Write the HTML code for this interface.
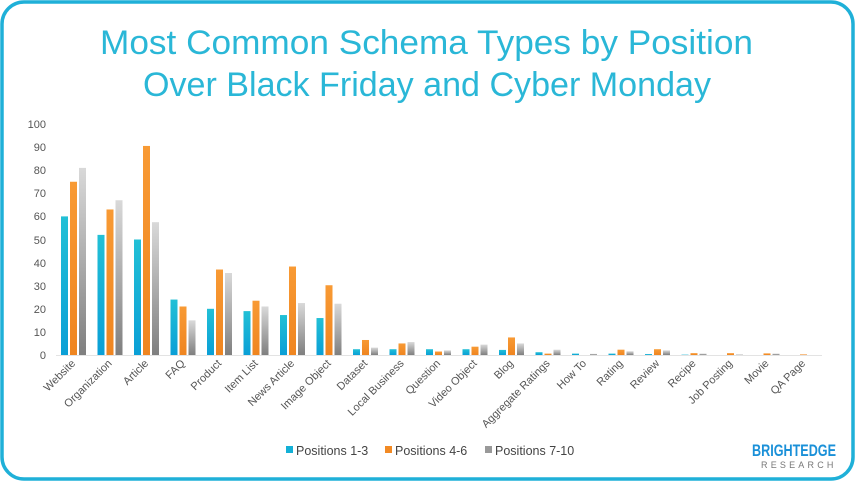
<!DOCTYPE html>
<html><head><meta charset="utf-8"><style>
html,body{margin:0;padding:0;background:#fff;}
svg{display:block;font-family:"Liberation Sans",sans-serif;}
</style></head><body>
<svg width="855" height="481" viewBox="0 0 855 481" xmlns="http://www.w3.org/2000/svg">
<defs>
<linearGradient id="gc" x1="0" y1="1" x2="0" y2="0"><stop offset="0" stop-color="#22c0d6"/><stop offset="1" stop-color="#0a9fd6"/></linearGradient>
<linearGradient id="go" x1="0" y1="1" x2="0" y2="0"><stop offset="0" stop-color="#f89a34"/><stop offset="1" stop-color="#ef8520"/></linearGradient>
<linearGradient id="gg" x1="0" y1="1" x2="0" y2="0"><stop offset="0" stop-color="#d9d9d9"/><stop offset="1" stop-color="#7f7f7f"/></linearGradient>
</defs>
<rect x="2" y="2" width="851" height="477" rx="22" fill="#fff" stroke="#1fb0d8" stroke-width="3.5"/>
<text x="100" y="54" font-size="34" fill="#2ab7d7" textLength="653" lengthAdjust="spacingAndGlyphs">Most Common Schema Types by Position</text>
<text x="143" y="96" font-size="34" fill="#2ab7d7" textLength="568" lengthAdjust="spacingAndGlyphs">Over Black Friday and Cyber Monday</text>
<g font-size="11" fill="#555" text-anchor="end">
<text x="46" y="359">0</text><text x="46" y="336">10</text><text x="46" y="313">20</text><text x="46" y="290">30</text><text x="46" y="267">40</text><text x="46" y="244">50</text><text x="46" y="220">60</text><text x="46" y="197">70</text><text x="46" y="174">80</text><text x="46" y="151">90</text><text x="46" y="128">100</text>
</g>
<line x1="56" y1="355.5" x2="822" y2="355.5" stroke="#e3e3e3" stroke-width="1"/>
<g transform="translate(0,355) scale(1,-2.31)">
<g fill="url(#gc)">
<rect x="61" y="0" width="7" height="60"/><rect x="97.5" y="0" width="7" height="52"/><rect x="134" y="0" width="7" height="50"/><rect x="170.5" y="0" width="7" height="24"/><rect x="207" y="0" width="7" height="20"/><rect x="243.5" y="0" width="7" height="19"/><rect x="280" y="0" width="7" height="17.3"/><rect x="316.5" y="0" width="7" height="16"/><rect x="353" y="0" width="7" height="2.5"/><rect x="389.5" y="0" width="7" height="2.5"/><rect x="426" y="0" width="7" height="2.5"/><rect x="462.5" y="0" width="7" height="2.5"/><rect x="499" y="0" width="7" height="2.2"/><rect x="535.5" y="0" width="7" height="1.2"/><rect x="572" y="0" width="7" height="0.6"/><rect x="608.5" y="0" width="7" height="0.6"/><rect x="645" y="0" width="7" height="0.4"/><rect x="681.5" y="0" width="7" height="0.15"/>
</g>
<g fill="url(#go)">
<rect x="70" y="0" width="7" height="75"/><rect x="106.5" y="0" width="7" height="63"/><rect x="143" y="0" width="7" height="90.5"/><rect x="179.5" y="0" width="7" height="21"/><rect x="216" y="0" width="7" height="37"/><rect x="252.5" y="0" width="7" height="23.5"/><rect x="289" y="0" width="7" height="38.3"/><rect x="325.5" y="0" width="7" height="30.2"/><rect x="362" y="0" width="7" height="6.5"/><rect x="398.5" y="0" width="7" height="5"/><rect x="435" y="0" width="7" height="1.5"/><rect x="471.5" y="0" width="7" height="3.6"/><rect x="508" y="0" width="7" height="7.6"/><rect x="544.5" y="0" width="7" height="0.6"/><rect x="617.5" y="0" width="7" height="2.3"/><rect x="654" y="0" width="7" height="2.5"/><rect x="690.5" y="0" width="7" height="0.8"/><rect x="727" y="0" width="7" height="0.8"/><rect x="763.5" y="0" width="7" height="0.7"/><rect x="800" y="0" width="7" height="0.25"/>
</g>
<g fill="url(#gg)">
<rect x="79" y="0" width="7" height="81"/><rect x="115.5" y="0" width="7" height="67"/><rect x="152" y="0" width="7" height="57.5"/><rect x="188.5" y="0" width="7" height="15"/><rect x="225" y="0" width="7" height="35.5"/><rect x="261.5" y="0" width="7" height="21"/><rect x="298" y="0" width="7" height="22.5"/><rect x="334.5" y="0" width="7" height="22.2"/><rect x="371" y="0" width="7" height="3.2"/><rect x="407.5" y="0" width="7" height="5.6"/><rect x="444" y="0" width="7" height="2"/><rect x="480.5" y="0" width="7" height="4.5"/><rect x="517" y="0" width="7" height="5"/><rect x="553.5" y="0" width="7" height="2.3"/><rect x="590" y="0" width="7" height="0.5"/><rect x="626.5" y="0" width="7" height="1.6"/><rect x="663" y="0" width="7" height="2"/><rect x="699.5" y="0" width="7" height="0.6"/><rect x="736" y="0" width="7" height="0.2"/><rect x="772.5" y="0" width="7" height="0.6"/>
</g>
</g>
<g font-size="11" fill="#555" text-anchor="end">
<text transform="translate(76,364) rotate(-45)">Website</text>
<text transform="translate(112.5,364) rotate(-45)">Organization</text>
<text transform="translate(149,364) rotate(-45)">Article</text>
<text transform="translate(185.5,364) rotate(-45)">FAQ</text>
<text transform="translate(222,364) rotate(-45)">Product</text>
<text transform="translate(258.5,364) rotate(-45)">Item List</text>
<text transform="translate(295,364) rotate(-45)">News Article</text>
<text transform="translate(331.5,364) rotate(-45)">Image Object</text>
<text transform="translate(368,364) rotate(-45)">Dataset</text>
<text transform="translate(404.5,364) rotate(-45)">Local Business</text>
<text transform="translate(441,364) rotate(-45)">Question</text>
<text transform="translate(477.5,364) rotate(-45)">Video Object</text>
<text transform="translate(514,364) rotate(-45)">Blog</text>
<text transform="translate(550.5,364) rotate(-45)">Aggregate Ratings</text>
<text transform="translate(587,364) rotate(-45)">How To</text>
<text transform="translate(623.5,364) rotate(-45)">Rating</text>
<text transform="translate(660,364) rotate(-45)">Review</text>
<text transform="translate(696.5,364) rotate(-45)">Recipe</text>
<text transform="translate(733,364) rotate(-45)">Job Posting</text>
<text transform="translate(769.5,364) rotate(-45)">Movie</text>
<text transform="translate(806,364) rotate(-45)">QA Page</text>
</g>
<g font-size="12.5" fill="#444">
<rect x="286" y="446" width="7" height="7" fill="#13b0d6"/><text x="296" y="455">Positions 1-3</text>
<rect x="385" y="446" width="7" height="7" fill="#f28a24"/><text x="395" y="455">Positions 4-6</text>
<rect x="485" y="446" width="7" height="7" fill="#999"/><text x="495" y="455">Positions 7-10</text>
</g>
<text x="752" y="456" font-size="16.5" font-weight="bold" fill="#1a90d8" textLength="84" lengthAdjust="spacingAndGlyphs">BRIGHTEDGE</text>
<text x="761" y="468" font-size="9" fill="#777" letter-spacing="3.2">RESEARCH</text>
</svg>
</body></html>
